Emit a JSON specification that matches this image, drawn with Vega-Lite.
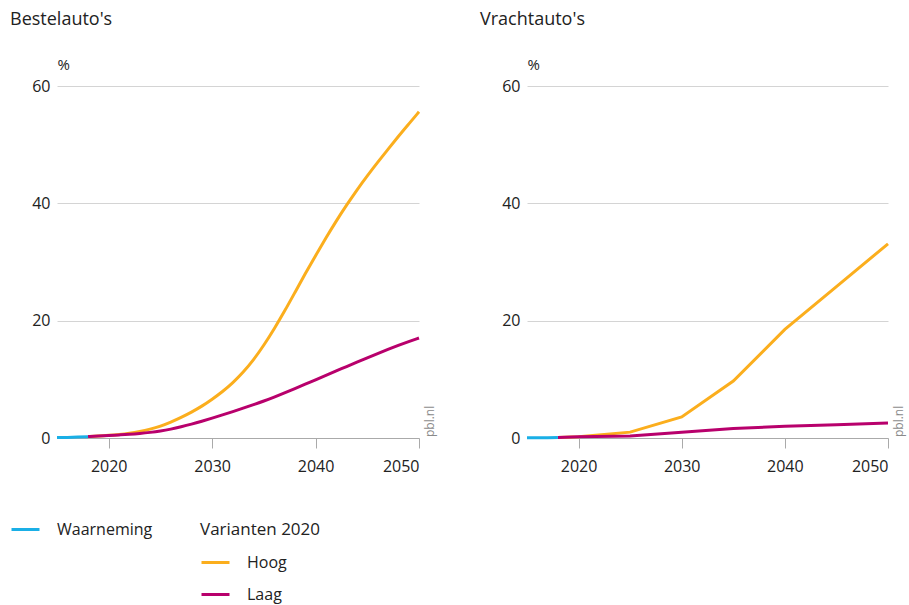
{
  "$schema": "https://vega.github.io/schema/vega-lite/v6.json",
  "autosize": {"type": "pad"},
  "padding": {"left": 10, "top": 11, "right": 5, "bottom": 5},
  "bounds": "flush",
  "spacing": 108,
  "config": {
    "font": "Open Sans",
    "view": {"stroke": null},
    "axis": {
      "labelFont": "Open Sans",
      "labelFontSize": 16,
      "labelColor": "#222222",
      "gridColor": "#d4d4d4",
      "tickColor": "#aaaaaa",
      "domainColor": "#aaaaaa",
      "titleFont": "Open Sans",
      "titleFontSize": 15,
      "titleFontWeight": "normal",
      "titleColor": "#222222"
    },
    "legend": {
      "labelFont": "Open Sans",
      "labelFontSize": 16,
      "labelColor": "#222222",
      "titleFont": "Open Sans",
      "titleFontSize": 17,
      "titleFontWeight": "normal",
      "titleColor": "#222222",
      "padding": 0
    },
    "title": {"font": "Open Sans", "fontSize": 18, "fontWeight": "normal", "color": "#222222"}
  },
  "data": {
    "values": [
      {"panel": "B", "series": "Waarneming", "year": 2015, "value": 0.1},
      {"panel": "B", "series": "Waarneming", "year": 2016, "value": 0.1},
      {"panel": "B", "series": "Waarneming", "year": 2017, "value": 0.15},
      {"panel": "B", "series": "Waarneming", "year": 2018, "value": 0.2},
      {"panel": "B", "series": "Hoog", "year": 2018, "value": 0.25},
      {"panel": "B", "series": "Hoog", "year": 2019, "value": 0.33},
      {"panel": "B", "series": "Hoog", "year": 2020, "value": 0.45},
      {"panel": "B", "series": "Hoog", "year": 2021, "value": 0.6},
      {"panel": "B", "series": "Hoog", "year": 2022, "value": 0.8},
      {"panel": "B", "series": "Hoog", "year": 2023, "value": 1.1},
      {"panel": "B", "series": "Hoog", "year": 2024, "value": 1.5},
      {"panel": "B", "series": "Hoog", "year": 2025, "value": 2.0},
      {"panel": "B", "series": "Hoog", "year": 2026, "value": 2.7},
      {"panel": "B", "series": "Hoog", "year": 2027, "value": 3.5},
      {"panel": "B", "series": "Hoog", "year": 2028, "value": 4.4},
      {"panel": "B", "series": "Hoog", "year": 2029, "value": 5.4},
      {"panel": "B", "series": "Hoog", "year": 2030, "value": 6.6},
      {"panel": "B", "series": "Hoog", "year": 2031, "value": 7.9},
      {"panel": "B", "series": "Hoog", "year": 2032, "value": 9.4},
      {"panel": "B", "series": "Hoog", "year": 2033, "value": 11.2},
      {"panel": "B", "series": "Hoog", "year": 2034, "value": 13.3},
      {"panel": "B", "series": "Hoog", "year": 2035, "value": 15.8},
      {"panel": "B", "series": "Hoog", "year": 2036, "value": 18.6},
      {"panel": "B", "series": "Hoog", "year": 2037, "value": 21.6},
      {"panel": "B", "series": "Hoog", "year": 2038, "value": 24.8},
      {"panel": "B", "series": "Hoog", "year": 2039, "value": 28.0},
      {"panel": "B", "series": "Hoog", "year": 2040, "value": 31.1},
      {"panel": "B", "series": "Hoog", "year": 2041, "value": 34.1},
      {"panel": "B", "series": "Hoog", "year": 2042, "value": 37.0},
      {"panel": "B", "series": "Hoog", "year": 2043, "value": 39.7},
      {"panel": "B", "series": "Hoog", "year": 2044, "value": 42.3},
      {"panel": "B", "series": "Hoog", "year": 2045, "value": 44.7},
      {"panel": "B", "series": "Hoog", "year": 2046, "value": 47.0},
      {"panel": "B", "series": "Hoog", "year": 2047, "value": 49.2},
      {"panel": "B", "series": "Hoog", "year": 2048, "value": 51.4},
      {"panel": "B", "series": "Hoog", "year": 2049, "value": 53.5},
      {"panel": "B", "series": "Hoog", "year": 2050, "value": 55.6},
      {"panel": "B", "series": "Laag", "year": 2018, "value": 0.25},
      {"panel": "B", "series": "Laag", "year": 2019, "value": 0.33},
      {"panel": "B", "series": "Laag", "year": 2020, "value": 0.42},
      {"panel": "B", "series": "Laag", "year": 2021, "value": 0.52},
      {"panel": "B", "series": "Laag", "year": 2022, "value": 0.63},
      {"panel": "B", "series": "Laag", "year": 2023, "value": 0.77},
      {"panel": "B", "series": "Laag", "year": 2024, "value": 0.95},
      {"panel": "B", "series": "Laag", "year": 2025, "value": 1.18},
      {"panel": "B", "series": "Laag", "year": 2026, "value": 1.5},
      {"panel": "B", "series": "Laag", "year": 2027, "value": 1.9},
      {"panel": "B", "series": "Laag", "year": 2028, "value": 2.35},
      {"panel": "B", "series": "Laag", "year": 2029, "value": 2.85},
      {"panel": "B", "series": "Laag", "year": 2030, "value": 3.38},
      {"panel": "B", "series": "Laag", "year": 2031, "value": 3.93},
      {"panel": "B", "series": "Laag", "year": 2032, "value": 4.5},
      {"panel": "B", "series": "Laag", "year": 2033, "value": 5.08},
      {"panel": "B", "series": "Laag", "year": 2034, "value": 5.68},
      {"panel": "B", "series": "Laag", "year": 2035, "value": 6.3},
      {"panel": "B", "series": "Laag", "year": 2036, "value": 6.98},
      {"panel": "B", "series": "Laag", "year": 2037, "value": 7.68},
      {"panel": "B", "series": "Laag", "year": 2038, "value": 8.42},
      {"panel": "B", "series": "Laag", "year": 2039, "value": 9.17},
      {"panel": "B", "series": "Laag", "year": 2040, "value": 9.93},
      {"panel": "B", "series": "Laag", "year": 2041, "value": 10.68},
      {"panel": "B", "series": "Laag", "year": 2042, "value": 11.43},
      {"panel": "B", "series": "Laag", "year": 2043, "value": 12.18},
      {"panel": "B", "series": "Laag", "year": 2044, "value": 12.93},
      {"panel": "B", "series": "Laag", "year": 2045, "value": 13.67},
      {"panel": "B", "series": "Laag", "year": 2046, "value": 14.39},
      {"panel": "B", "series": "Laag", "year": 2047, "value": 15.1},
      {"panel": "B", "series": "Laag", "year": 2048, "value": 15.78},
      {"panel": "B", "series": "Laag", "year": 2049, "value": 16.43},
      {"panel": "B", "series": "Laag", "year": 2050, "value": 17.05},
      {"panel": "V", "series": "Waarneming", "year": 2015, "value": 0.05},
      {"panel": "V", "series": "Waarneming", "year": 2016, "value": 0.05},
      {"panel": "V", "series": "Waarneming", "year": 2017, "value": 0.05},
      {"panel": "V", "series": "Waarneming", "year": 2018, "value": 0.1},
      {"panel": "V", "series": "Hoog", "year": 2018, "value": 0.1},
      {"panel": "V", "series": "Hoog", "year": 2020, "value": 0.2},
      {"panel": "V", "series": "Hoog", "year": 2025, "value": 1.0},
      {"panel": "V", "series": "Hoog", "year": 2030, "value": 3.6},
      {"panel": "V", "series": "Hoog", "year": 2035, "value": 9.7},
      {"panel": "V", "series": "Hoog", "year": 2040, "value": 18.5},
      {"panel": "V", "series": "Hoog", "year": 2045, "value": 25.8},
      {"panel": "V", "series": "Hoog", "year": 2050, "value": 33.1},
      {"panel": "V", "series": "Laag", "year": 2018, "value": 0.1},
      {"panel": "V", "series": "Laag", "year": 2020, "value": 0.2},
      {"panel": "V", "series": "Laag", "year": 2025, "value": 0.35},
      {"panel": "V", "series": "Laag", "year": 2030, "value": 1.0},
      {"panel": "V", "series": "Laag", "year": 2035, "value": 1.6},
      {"panel": "V", "series": "Laag", "year": 2040, "value": 2.0},
      {"panel": "V", "series": "Laag", "year": 2045, "value": 2.25},
      {"panel": "V", "series": "Laag", "year": 2050, "value": 2.55}
    ]
  },
  "hconcat": [
    {
      "title": {"text": "Bestelauto's", "anchor": "start", "frame": "group", "dx": -47, "offset": 28},
      "width": 362,
      "height": 352,
      "layer": [
        {
          "transform": [{"filter": "datum.panel === 'B' && datum.series !== 'Waarneming'"}],
          "mark": {"type": "line", "strokeWidth": 3, "interpolate": "basis"},
          "encoding": {
            "x": {"field": "year", "type": "quantitative", "scale": {"domain": [2015, 2050], "nice": false, "zero": false},
                  "axis": {"values": [2020, 2030, 2040, 2050], "format": "d", "title": null, "grid": false, "tickSize": 10, "labelPadding": 10}},
            "y": {"field": "value", "type": "quantitative", "scale": {"domain": [0, 60], "nice": false},
                  "axis": {"values": [0, 20, 40, 60], "title": "%", "titleAngle": 0, "titleX": 0, "titleY": -14, "titleAlign": "left", "titleBaseline": "bottom", "domain": false, "ticks": false, "grid": true, "labelPadding": 7}},
            "color": {"field": "series", "type": "nominal", "scale": {"domain": ["Hoog", "Laag"], "range": ["#fbae1d", "#b8006c"]},
                      "legend": {"title": "Varianten 2020", "orient": "none", "legendX": 143, "legendY": 436, "direction": "vertical", "symbolType": "stroke", "symbolSize": 784, "symbolStrokeWidth": 3, "labelOffset": 16, "rowPadding": 8, "titlePadding": 8}}
          }
        },
        {
          "transform": [{"filter": "datum.panel === 'B' && datum.series === 'Waarneming'"}],
          "mark": {"type": "line", "strokeWidth": 3},
          "encoding": {
            "x": {"field": "year", "type": "quantitative"},
            "y": {"field": "value", "type": "quantitative"},
            "stroke": {"field": "series", "type": "nominal", "scale": {"domain": ["Waarneming"], "range": ["#1aafe6"]},
                       "legend": {"title": null, "orient": "none", "legendX": -47, "legendY": 428, "direction": "vertical", "symbolType": "stroke", "symbolSize": 784, "symbolStrokeWidth": 3, "labelOffset": 16}}
          }
        },
        {
          "data": {"values": [{"label": "pbl.nl"}]},
          "mark": {"type": "text", "angle": 270, "align": "left", "baseline": "middle", "dx": 1, "dy": 11, "fontSize": 12, "color": "#8a8a8a"},
          "encoding": {
            "x": {"datum": 2050, "type": "quantitative"},
            "y": {"datum": 0, "type": "quantitative"},
            "text": {"field": "label", "type": "nominal"}
          }
        }
      ]
    },
    {
      "title": {"text": "Vrachtauto's", "anchor": "start", "frame": "group", "dx": -47, "offset": 28},
      "width": 361,
      "height": 352,
      "layer": [
        {
          "transform": [{"filter": "datum.panel === 'V' && datum.series !== 'Waarneming'"}],
          "mark": {"type": "line", "strokeWidth": 3},
          "encoding": {
            "x": {"field": "year", "type": "quantitative", "scale": {"domain": [2015, 2050], "nice": false, "zero": false},
                  "axis": {"values": [2020, 2030, 2040, 2050], "format": "d", "title": null, "grid": false, "tickSize": 10, "labelPadding": 10}},
            "y": {"field": "value", "type": "quantitative", "scale": {"domain": [0, 60], "nice": false},
                  "axis": {"values": [0, 20, 40, 60], "title": "%", "titleAngle": 0, "titleX": 0, "titleY": -14, "titleAlign": "left", "titleBaseline": "bottom", "domain": false, "ticks": false, "grid": true, "labelPadding": 7}},
            "color": {"field": "series", "type": "nominal", "scale": {"domain": ["Hoog", "Laag"], "range": ["#fbae1d", "#b8006c"]},
                      "legend": {"title": "Varianten 2020", "orient": "none", "legendX": 143, "legendY": 436, "direction": "vertical", "symbolType": "stroke", "symbolSize": 784, "symbolStrokeWidth": 3, "labelOffset": 16, "rowPadding": 8, "titlePadding": 8}}
          }
        },
        {
          "transform": [{"filter": "datum.panel === 'V' && datum.series === 'Waarneming'"}],
          "mark": {"type": "line", "strokeWidth": 3},
          "encoding": {
            "x": {"field": "year", "type": "quantitative"},
            "y": {"field": "value", "type": "quantitative"},
            "stroke": {"field": "series", "type": "nominal", "scale": {"domain": ["Waarneming"], "range": ["#1aafe6"]},
                       "legend": {"title": null, "orient": "none", "legendX": -47, "legendY": 428, "direction": "vertical", "symbolType": "stroke", "symbolSize": 784, "symbolStrokeWidth": 3, "labelOffset": 16}}
          }
        },
        {
          "data": {"values": [{"label": "pbl.nl"}]},
          "mark": {"type": "text", "angle": 270, "align": "left", "baseline": "middle", "dx": 1, "dy": 11, "fontSize": 12, "color": "#8a8a8a"},
          "encoding": {
            "x": {"datum": 2050, "type": "quantitative"},
            "y": {"datum": 0, "type": "quantitative"},
            "text": {"field": "label", "type": "nominal"}
          }
        }
      ]
    }
  ]
}
